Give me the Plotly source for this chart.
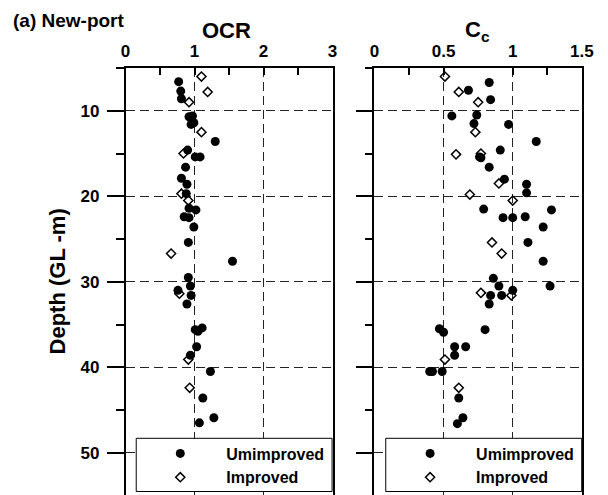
import plotly.graph_objects as go

W, H = 608, 495

# ---- OCR profile ----
ocr_unimp_depth = [6.6, 7.7, 8.6, 10.6, 10.7, 11.4, 11.6, 13.6, 14.6, 15.4, 15.4, 16.6,
                   17.9, 18.6, 19.7, 21.4, 21.6, 22.4, 22.5, 23.6, 25.4, 27.6, 29.5, 30.5,
                   31.0, 31.6, 32.6, 35.4, 35.6, 35.8, 37.6, 38.6, 40.5, 43.6, 45.9, 46.5]
ocr_unimp = [0.77, 0.80, 0.81, 0.97, 0.92, 0.99, 0.95, 1.30, 0.90, 1.01, 1.08, 0.87,
             0.81, 0.89, 0.88, 0.92, 1.02, 0.85, 0.92, 0.99, 0.91, 1.55, 0.91, 0.94,
             0.76, 0.95, 0.89, 1.11, 1.01, 1.05, 1.03, 0.94, 1.23, 1.12, 1.28, 1.07]
ocr_imp_depth = [6.0, 7.8, 9.0, 12.5, 15.0, 19.7, 20.5, 26.7, 31.4, 39.1, 42.4]
ocr_imp = [1.10, 1.19, 0.92, 1.10, 0.84, 0.81, 0.91, 0.66, 0.78, 0.91, 0.93]

# ---- Compression index profile ----
cc_unimp_depth = [6.7, 7.6, 8.7, 10.6, 10.5, 11.5, 11.6, 13.6, 14.6, 15.4, 15.5, 16.6,
                  18.0, 18.6, 19.6, 21.5, 21.6, 22.5, 22.5, 22.4, 23.6, 25.4, 27.6, 29.6,
                  30.5, 30.5, 31.6, 31.6, 31.0, 32.6, 35.5, 35.9, 35.6, 37.6, 37.6, 38.6,
                  40.5, 40.5, 40.5, 43.6, 45.9, 46.6]
cc_unimp = [0.83, 0.68, 0.84, 0.56, 0.74, 0.72, 0.97, 1.17, 0.91, 0.76, 0.77, 0.83,
            0.94, 1.10, 1.10, 0.79, 1.28, 0.93, 1.00, 1.09, 1.22, 1.11, 1.22, 0.86,
            0.90, 1.27, 0.84, 0.92, 1.00, 0.83, 0.47, 0.50, 0.80, 0.58, 0.66, 0.58,
            0.40, 0.42, 0.49, 0.61, 0.64, 0.60]
cc_imp_depth = [6.0, 7.8, 9.0, 12.5, 15.1, 15.0, 18.5, 19.8, 20.5, 25.4, 26.7, 31.3,
                31.6, 39.1, 42.4]
cc_imp = [0.51, 0.61, 0.75, 0.73, 0.59, 0.77, 0.90, 0.69, 1.00, 0.85, 0.92, 0.77,
          0.99, 0.51, 0.61]

series_names = ["Umimproved", "Improved"]
depth_ticks = [10, 20, 30, 40, 50]
ocr_minor_ticks = [0.5, 1.5, 2.5]
cc_minor_ticks = [0.25, 1.25]

FONT = "Liberation Sans, Arial, sans-serif"
BOLD = dict(family=FONT, color="black", weight="bold")


def fx(p):
    return p / W


def fy(p):
    return 1 - p / H


fig = go.Figure()

circle = dict(symbol="circle", size=9, color="black", line=dict(width=0))
diamond = dict(symbol="diamond-open", size=7, color="black", line=dict(width=1.5, color="black"))

# open symbols go first so the filled ones sit on top
fig.add_trace(go.Scatter(x=ocr_imp, y=ocr_imp_depth, mode="markers", name=series_names[1],
                         marker=diamond, xaxis="x", yaxis="y", legend="legend", legendrank=2))
fig.add_trace(go.Scatter(x=ocr_unimp, y=ocr_unimp_depth, mode="markers", name=series_names[0],
                         marker=circle, xaxis="x", yaxis="y", legend="legend", legendrank=1))
fig.add_trace(go.Scatter(x=cc_imp, y=cc_imp_depth, mode="markers", name=series_names[1],
                         marker=diamond, xaxis="x2", yaxis="y2", legend="legend2", legendrank=2))
fig.add_trace(go.Scatter(x=cc_unimp, y=cc_unimp_depth, mode="markers", name=series_names[0],
                         marker=circle, xaxis="x2", yaxis="y2", legend="legend2", legendrank=1))

y_top, y_bot = 68, 495
y_range = [54.94, 5]
GRID = dict(showgrid=True, gridcolor="#222", gridwidth=1, griddash="9px,5px", zeroline=False)

def xaxis_cfg(left, right, rng, dtick, minor_vals, anchor):
    return dict(domain=[fx(left), fx(right)], range=rng, side="top", anchor=anchor,
                showline=True, linecolor="black", linewidth=1.5, mirror=False,
                ticks="inside", ticklen=7, tickwidth=1.5, tickcolor="black",
                dtick=dtick, tick0=0, tickfont=dict(size=17, **BOLD), ticklabelstandoff=2,
                minor=dict(tickvals=minor_vals, ticks="inside", ticklen=7,
                           tickwidth=1.5, tickcolor="black", showgrid=False),
                fixedrange=True, **GRID)

def yaxis_cfg(anchor, labels):
    return dict(domain=[fy(y_bot), fy(y_top)], range=y_range, anchor=anchor,
                showline=True, linecolor="black", linewidth=1.5, mirror=True,
                ticks="outside", ticklen=17, tickwidth=1.5, tickcolor="black",
                tickvals=depth_ticks, showticklabels=labels,
                tickfont=dict(size=17, **BOLD), ticklabelstandoff=4,
                minor=dict(dtick=5, tick0=0, ticks="outside", ticklen=8, tickwidth=1.5,
                           tickcolor="black", showgrid=False),
                fixedrange=True, **GRID)

def inner_ticks(anchor, over):
    return dict(overlaying=over, anchor=anchor, range=y_range, side="left",
                showline=False, showgrid=False, zeroline=False, showticklabels=False,
                ticks="inside", ticklen=7, tickwidth=1.5, tickcolor="black",
                tickvals=depth_ticks, fixedrange=True)

fig.update_layout(
    width=W, height=H,
    margin=dict(l=0, r=0, t=0, b=0),
    paper_bgcolor="white", plot_bgcolor="white",
    font=dict(family=FONT, color="black"),
    xaxis=xaxis_cfg(124, 337, [0, 3], 1, ocr_minor_ticks, "y"),
    xaxis2=xaxis_cfg(380, 593.5, [0, 1.5], 0.5, cc_minor_ticks, "y2"),
    yaxis=yaxis_cfg("x", True),
    yaxis2=yaxis_cfg("x2", False),
    yaxis3=inner_ticks("x", "y"),
    yaxis4=inner_ticks("x2", "y2"),
    legend=dict(x=fx(133), y=fy(436.5), xanchor="left", yanchor="top",
                bgcolor="rgba(0,0,0,0)", borderwidth=0, itemwidth=82,
                font=dict(size=16, **BOLD), traceorder="normal"),
    legend2=dict(x=fx(390), y=fy(436.5), xanchor="left", yanchor="top",
                 bgcolor="rgba(0,0,0,0)", borderwidth=0, itemwidth=82,
                 font=dict(size=16, **BOLD), traceorder="normal"),
    shapes=[
        dict(type="rect", xref="paper", yref="paper", layer="above",
             x0=fx(135), x1=fx(336.5), y0=fy(491.5), y1=fy(438.3),
             fillcolor="white", line=dict(color="black", width=1)),
        dict(type="rect", xref="paper", yref="paper", layer="above",
             x0=fx(391.7), x1=fx(593.3), y0=fy(491.5), y1=fy(438.3),
             fillcolor="white", line=dict(color="black", width=1)),
    ],
    annotations=[
        dict(text="(a) New-port", x=fx(6), y=fy(20), xref="paper", yref="paper",
             xanchor="left", yanchor="middle", showarrow=False, font=dict(size=19, **BOLD)),
        dict(text="OCR", x=fx(228), y=fy(31), xref="paper", yref="paper",
             xanchor="center", yanchor="middle", showarrow=False, font=dict(size=22, **BOLD)),
        dict(text="C<sub>c</sub>", x=fx(486), y=fy(31), xref="paper", yref="paper",
             xanchor="center", yanchor="middle", showarrow=False, font=dict(size=22, **BOLD)),
        dict(text="Depth (GL -m)", x=fx(54), y=fy(281), xref="paper", yref="paper",
             xanchor="center", yanchor="middle", textangle=-90, showarrow=False,
             font=dict(size=22, **BOLD)),
    ],
)

fig.write_html("out.html", config={"displayModeBar": False})
